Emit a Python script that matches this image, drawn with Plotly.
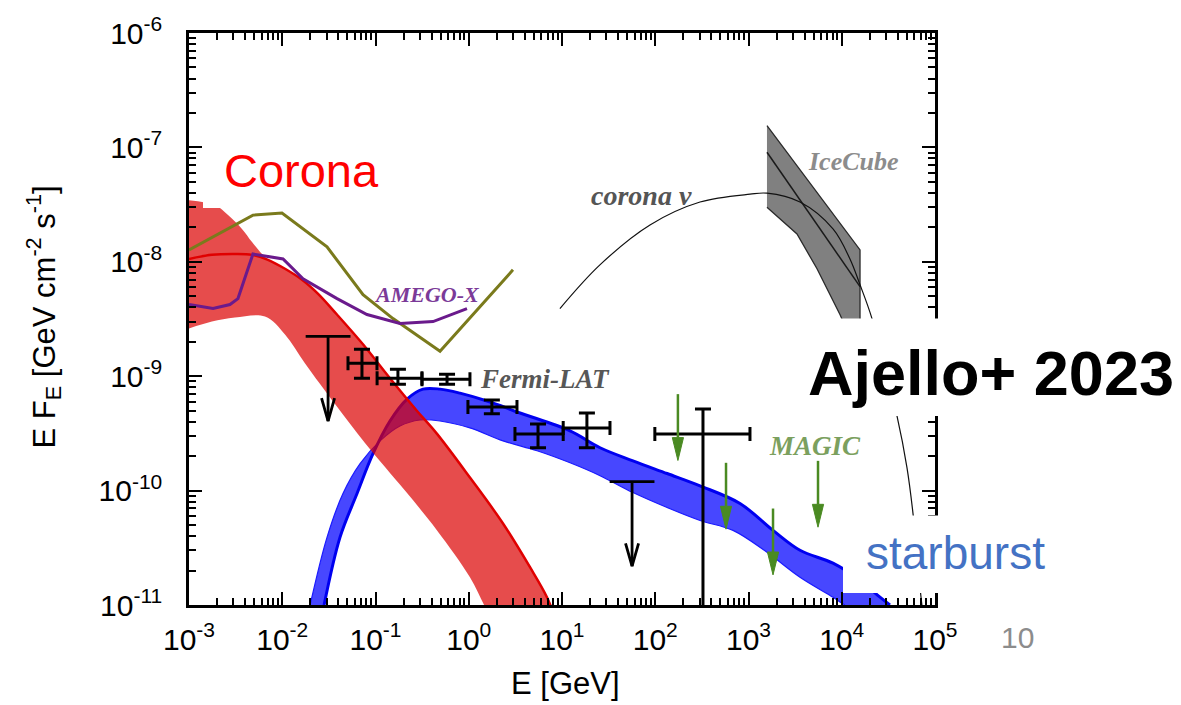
import plotly.graph_objects as go

# ---------------- data ----------------
# Corona gamma-ray model: central curve and uncertainty band
corona_E = [1.0e-3, 1.76e-3, 3.11e-3, 4.74e-3, 7.03e-3, 0.0107, 0.0163, 0.0241, 0.0386,
            0.0734, 0.143, 0.279, 0.457, 1.03, 2.33, 4.54, 6.90, 8.5]
corona_F = [1.06e-8, 1.15e-8, 1.17e-8, 1.15e-8, 1.04e-8, 8.69e-9, 6.97e-9, 5.27e-9, 3.46e-9,
            1.90e-9, 9.6e-10, 4.97e-10, 3.13e-10, 1.30e-10, 5.16e-11, 2.14e-11, 1.17e-11, 7.5e-12]
corona_hi_E = [1.0e-3, 1.90e-3, 2.62e-3, 3.70e-3, 4.74e-3, 6.07e-3, 7.03e-3, 0.0107, 0.0163,
               0.0241, 0.0386, 0.0734, 0.143, 0.279, 0.457, 1.03, 2.33, 4.54, 6.90, 8.5]
corona_hi_F = [3.46e-8, 3.13e-8, 2.56e-8, 1.94e-8, 1.49e-8, 1.17e-8, 1.05e-8, 8.75e-9, 7.0e-9,
               5.3e-9, 3.48e-9, 1.91e-9, 9.7e-10, 5.0e-10, 3.15e-10, 1.31e-10, 5.2e-11, 2.15e-11,
               1.18e-11, 7.5e-12]
corona_lo_E = [1.0e-3, 1.76e-3, 3.11e-3, 6.53e-3, 0.0107, 0.0175, 0.0368, 0.0771, 0.207,
               0.457, 1.03, 1.46, 1.8]
corona_lo_F = [2.61e-9, 3.0e-9, 3.26e-9, 3.32e-9, 2.32e-9, 1.30e-9, 5.71e-10, 2.61e-10, 1.0e-10,
               4.49e-11, 1.75e-11, 1.0e-11, 7.0e-12]

# Starburst model band
sb_hi_E = [0.0281, 0.0416, 0.0634, 0.0940, 0.143, 0.218, 0.323, 0.492, 0.805, 1.57, 3.55, 12.2,
           25.6, 57.7, 134, 302, 811, 1832, 3565, 8054, 15700, 25700, 32900]
sb_hi_F = [1.0e-11, 3.90e-11, 9.42e-11, 2.10e-10, 4.06e-10, 6.31e-10, 7.71e-10, 7.71e-10,
           7.11e-10, 6.07e-10, 4.77e-10, 3.33e-10, 2.37e-10, 1.82e-10, 1.41e-10, 1.10e-10,
           7.71e-11, 4.49e-11, 3.01e-11, 2.32e-11, 1.65e-11, 1.17e-11, 1.0e-11]
sb_lo_E = [0.0199, 0.0302, 0.0448, 0.0683, 0.112, 0.183, 0.300, 0.492, 1.03, 2.33, 5.40, 12.2,
           25.6, 57.7, 134, 302, 682, 1578, 3565, 8054, 10800]
sb_lo_F = [1.0e-11, 3.90e-11, 9.42e-11, 1.72e-10, 2.72e-10, 3.67e-10, 4.14e-10, 4.06e-10,
           3.53e-10, 2.72e-10, 2.23e-10, 1.75e-10, 1.35e-10, 9.61e-11, 7.11e-11, 5.48e-11,
           4.49e-11, 2.89e-11, 1.75e-11, 1.17e-11, 1.0e-11]

# MeV instrument sensitivity curves
mev_sens_E = [1.0e-3, 4.85e-3, 9.93e-3, 0.0302, 0.0735, 0.154, 0.492, 2.98]
mev_sens_F = [1.27e-8, 2.56e-8, 2.67e-8, 1.35e-8, 5.17e-9, 3.19e-9, 1.65e-9, 8.5e-9]
amego_E = [1.0e-3, 1.81e-3, 2.75e-3, 3.35e-3, 4.85e-3, 0.0102, 0.0167, 0.0387, 0.081, 0.183,
           0.414, 0.957]
amego_F = [4.23e-9, 3.9e-9, 4.23e-9, 4.77e-9, 1.17e-8, 1.06e-8, 7.1e-9, 4.77e-9, 3.46e-9,
           2.89e-9, 3.0e-9, 3.9e-9]

# Corona neutrino spectrum
nu_E = [9.5, 25.5, 87.8, 302, 1038, 1578, 3565, 8054, 12250, 15700, 21100, 39100, 50100,
        58100, 72400, 80000]
nu_F = [3.9e-9, 9.4e-9, 2.1e-8, 3.33e-8, 3.9e-8, 3.98e-8, 3.33e-8, 1.94e-8, 1.06e-8, 6.3e-9,
        3.19e-9, 4.49e-10, 1.58e-10, 6.3e-11, 1.0e-11, 6.0e-12]

# IceCube neutrino band
ic_hi_E = [1578, 15700, 15700]
ic_hi_F = [1.55e-7, 1.27e-8, 1.5e-9]
ic_lo_E = [1578, 3311, 5430, 9570, 12880, 15700]
ic_lo_F = [3.0e-8, 1.75e-8, 8.7e-9, 3.46e-9, 2.0e-9, 1.5e-9]
ic_mid_E = [1578, 15700]
ic_mid_F = [9.06e-8, 6.07e-9]

# Fermi-LAT spectral points
lat_E = [0.0716, 0.174, 0.585, 1.77, 5.53, 18.5, 325]
lat_E_lo = [0.0507, 0.104, 0.315, 0.98, 3.13, 10.3, 99]
lat_E_hi = [0.1037, 0.315, 1.03, 3.29, 10.3, 32.7, 1037]
lat_F = [1.30e-9, 9.6e-10, 9.4e-10, 5.37e-10, 3.13e-10, 3.53e-10, 3.13e-10]
lat_F_lo = [9.6e-10, 8.5e-10, 8.5e-10, 4.7e-10, 2.37e-10, 2.37e-10, 1.0e-12]
lat_F_hi = [1.72e-9, 1.15e-9, 1.04e-9, 6.2e-10, 3.83e-10, 4.76e-10, 5.16e-10]

# Fermi-LAT upper limits
lat_ul_E = [0.031, 56.4]
lat_ul_F = [2.23e-9, 1.2e-10]

# MAGIC upper limits
magic_ul_E = [175, 574, 1832, 5565]
magic_ul_F = [6.97e-10, 1.75e-10, 6.97e-11, 1.82e-10]

# axis ticks
x_exps = list(range(-3, 6))
y_exps = list(range(-11, -5))

# ---------------- styling helpers ----------------
L, R, T, B = 189, 935, 30, 605
W_PX, H_PX = 1181, 705


def xp(px):
    return (px - L) / (R - L)


def yp(py):
    return (B - py) / (B - T)


fig = go.Figure()


def band(hiE, hiF, loE, loF, color, shape="linear"):
    fig.add_trace(go.Scatter(x=list(hiE) + list(loE)[::-1], y=list(hiF) + list(loF)[::-1],
                             mode="lines", fill="toself", fillcolor=color,
                             line=dict(width=0, color="rgba(0,0,0,0)", shape=shape),
                             hoverinfo="skip"))


def curve(E, F, color, width, shape="linear"):
    fig.add_trace(go.Scatter(x=E, y=F, mode="lines",
                             line=dict(color=color, width=width, shape=shape),
                             hoverinfo="skip"))


# starburst band (below the semi-transparent corona band)
band(sb_hi_E, sb_hi_F, sb_lo_E, sb_lo_F, "rgba(0,0,255,0.72)", "spline")
curve(sb_lo_E, sb_lo_F, "#1a1aff", 1.2, "spline")
curve(sb_hi_E, sb_hi_F, "#0000f0", 3, "spline")

# corona gamma-ray band and curve
band(corona_hi_E, corona_hi_F, corona_lo_E, corona_lo_F, "rgba(220,0,0,0.70)", "spline")
curve(corona_E, corona_F, "#e00000", 2.5, "spline")

# sensitivity curves
curve(mev_sens_E, mev_sens_F, "#7a7a1c", 3)
curve(amego_E, amego_F, "#6a1a8c", 3)

# IceCube band
fig.add_trace(go.Scatter(x=ic_hi_E + ic_lo_E[::-1], y=ic_hi_F + ic_lo_F[::-1], mode="lines",
                         fill="toself", fillcolor="#808080",
                         line=dict(color="#2a2a2a", width=1.3), hoverinfo="skip"))
curve(ic_mid_E, ic_mid_F, "#1a1a1a", 1.5)

# corona neutrino curve
curve(nu_E, nu_F, "#111111", 1.2, "spline")

# Fermi-LAT points with error bars
fig.add_trace(go.Scatter(
    x=lat_E, y=lat_F, mode="markers",
    marker=dict(size=2, color="black"),
    error_x=dict(type="data", symmetric=False,
                 array=[h - e for h, e in zip(lat_E_hi, lat_E)],
                 arrayminus=[e - l for e, l in zip(lat_E, lat_E_lo)],
                 color="black", thickness=3, width=7),
    error_y=dict(type="data", symmetric=False,
                 array=[h - f for h, f in zip(lat_F_hi, lat_F)],
                 arrayminus=[f - l for f, l in zip(lat_F, lat_F_lo)],
                 color="black", thickness=3, width=8),
    hoverinfo="skip"))

# upper-limit arrows
LAT_ARROW_DEX = 0.74
MAGIC_ARROW_DEX = 0.58


def ul_arrows(E_list, F_list, length_dex, color, width, head_len, head_half, filled, cap):
    sx, sy = [], []
    for e, f in zip(E_list, F_list):
        tip = f * 10 ** (-length_dex)
        base = tip * 10 ** head_len
        sx += [e, e, None]
        sy += [f, tip if not filled else base, None]
    curve(sx, sy, color, width)
    for e, f in zip(E_list, F_list):
        tip = f * 10 ** (-length_dex)
        base = tip * 10 ** head_len
        hx = [e * 10 ** (-head_half), e, e * 10 ** head_half]
        hy = [base, tip, base]
        if filled:
            fig.add_trace(go.Scatter(x=hx + [hx[0]], y=hy + [hy[0]], mode="lines",
                                     fill="toself", fillcolor=color,
                                     line=dict(color=color, width=1), hoverinfo="skip"))
        else:
            curve(hx, hy, color, width)
    if cap:
        fig.add_trace(go.Scatter(x=E_list, y=F_list, mode="markers",
                                 marker=dict(symbol="line-ew", size=cap,
                                             line=dict(color=color, width=width)),
                                 hoverinfo="skip"))


ul_arrows(lat_ul_E, lat_ul_F, LAT_ARROW_DEX, "black", 2.8, 0.2, 0.07, False, 32)
ul_arrows(magic_ul_E, magic_ul_F, MAGIC_ARROW_DEX, "#4a8a22", 2.5, 0.2, 0.06, True, 0)

# ---------------- axes ----------------
minor_x = [m * 10.0 ** d for d in x_exps[:-1] for m in range(2, 10)]
minor_y = [m * 10.0 ** d for d in y_exps[:-1] for m in range(2, 10)]
axis_common = dict(type="log", showgrid=False, zeroline=False, showline=True,
                   linecolor="black", linewidth=2.5, mirror="allticks",
                   ticks="inside", ticklen=13, tickwidth=2, tickcolor="black",
                   tickfont=dict(family="Liberation Sans, Arial", size=30, color="black"))
fig.update_xaxes(range=[-3, 5], tickmode="array",
                 tickvals=[10.0 ** e for e in x_exps],
                 ticktext=[f"10<sup>{e}</sup>" for e in x_exps],
                 minor=dict(tickmode="array", tickvals=minor_x, ticks="inside",
                            ticklen=7, tickwidth=2, tickcolor="black"),
                 ticklabelstandoff=6, **axis_common)
fig.update_yaxes(range=[-11, -6], tickmode="array",
                 tickvals=[10.0 ** e for e in y_exps],
                 ticktext=[f"10<sup>{e}</sup>" for e in y_exps],
                 minor=dict(tickmode="array", tickvals=minor_y, ticks="inside",
                            ticklen=7, tickwidth=2, tickcolor="black"),
                 ticklabelstandoff=18, **axis_common)

# ---------------- white label boxes ----------------
boxes = [(203, 140, 385, 206), (800, 317, W_PX, 415), (843, 515, 1062, 593)]
for x0, y0, x1, y1 in boxes:
    fig.add_shape(type="rect", xref="paper", yref="paper", layer="above",
                  x0=xp(x0), x1=xp(x1), y0=yp(y1), y1=yp(y0),
                  fillcolor="white", line=dict(width=0))


def label(text, cx, cy, size, color, family="Liberation Sans, Arial", angle=0):
    fig.add_annotation(text=text, x=xp(cx), y=yp(cy), xref="paper", yref="paper",
                       xanchor="center", yanchor="middle", showarrow=False,
                       textangle=angle, font=dict(family=family, size=size, color=color))


SERIF = "Liberation Serif, Times New Roman, serif"
label("Corona", 301, 168, 47, "#ff0000")
label("<b>Ajello+ 2023</b>", 991, 372, 63, "black")
label("starburst", 955, 553, 46, "#4472c4")
label("10", 1017, 638, 30, "#8c8c8c")
label("<b><i>Fermi-LAT</i></b>", 545, 378, 27, "#575757", SERIF)
label("<b><i>AMEGO-X</i></b>", 427, 293, 22, "#7b3a98", SERIF)
label("<b><i>MAGIC</i></b>", 815, 445, 27, "#7ba05e", SERIF)
label("<b><i>IceCube</i></b>", 853, 159, 26, "#8c8c8c", SERIF)
label("<b><i>corona ν</i></b>", 641, 193, 28, "#555555", SERIF)
label("E [GeV]", 565, 684, 31, "black")
label("E F<sub>E</sub> [GeV cm<sup>-2</sup> s<sup>-1</sup>]", 44, 316, 31, "black", angle=-90)

fig.update_layout(width=W_PX, height=H_PX, showlegend=False,
                  margin=dict(l=L, r=W_PX - R, t=T, b=H_PX - B),
                  paper_bgcolor="white", plot_bgcolor="white", hovermode=False)

fig.write_html("out.html")
